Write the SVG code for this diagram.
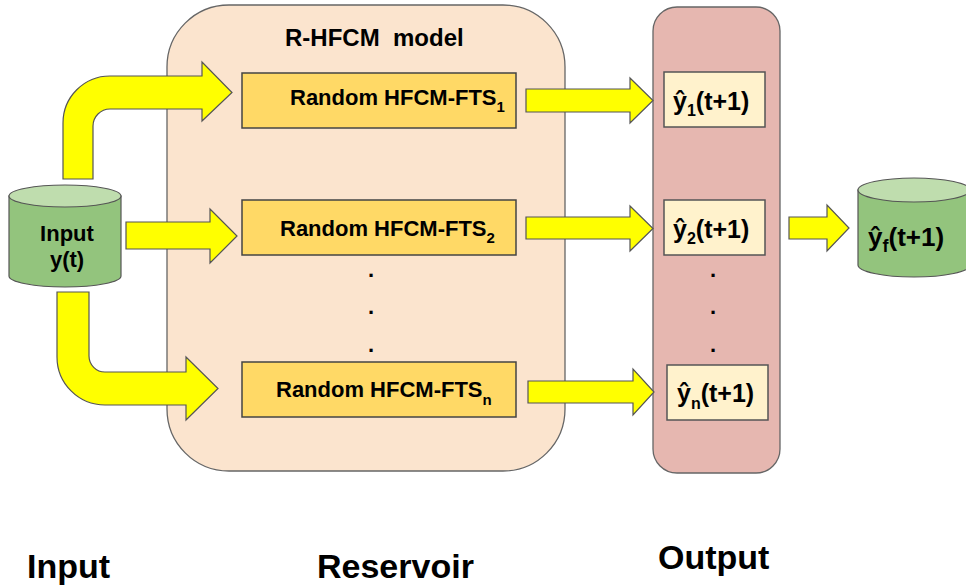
<svg xmlns="http://www.w3.org/2000/svg" width="966" height="588" viewBox="0 0 966 588">
  <style>
    text { font-family: "Liberation Sans", Arial, sans-serif; font-weight: bold; fill: #000; }
    .panel-res { fill: #FBE4CE; stroke: #666; stroke-width: 1.3; }
    .panel-out { fill: #E6B7B0; stroke: #666; stroke-width: 1.3; }
    .hfcm { fill: #FFD966; stroke: #444; stroke-width: 1.5; }
    .pred { fill: #FFF2CC; stroke: #555; stroke-width: 1.5; }
    .arrow { fill: #FFFF00; stroke: #555; stroke-width: 1.2; stroke-linejoin: miter; }
    .cyl-body { fill: #93C47D; stroke: #555; stroke-width: 1.2; }
    .cyl-top { fill: #BFDDAE; stroke: #555; stroke-width: 1.2; }
    .box-label { font-size: 22px; }
    .pred-label { font-size: 25px; }
    .section { font-size: 34px; }
    .dot { font-size: 22px; text-anchor: middle; }
  </style>

  <!-- Reservoir panel -->
  <g id="reservoir">
    <rect class="panel-res" x="167" y="5" width="398" height="466" rx="62" ry="62"/>
    <text x="285" y="46" font-size="24" style="white-space:pre">R-HFCM  model</text>
  </g>

  <!-- Output panel -->
  <g id="output-panel">
    <rect class="panel-out" x="653" y="7" width="127" height="466" rx="24" ry="24"/>
  </g>

  <!-- Input store -->
  <g id="input">
    <path class="cyl-body" d="M9,196 L9,276 A56,11 0 0 0 121,276 L121,196 Z"/>
    <ellipse class="cyl-top" cx="65" cy="196" rx="56" ry="11"/>
    <text x="67" y="241" font-size="22" text-anchor="middle">Input</text>
    <text x="67" y="267" font-size="22" text-anchor="middle">y(t)</text>
  </g>

  <!-- Random HFCM-FTS units -->
  <g id="hfcm1">
    <rect class="hfcm" x="242" y="73" width="274" height="55"/>
    <text class="box-label" x="290" y="105">Random HFCM-FTS<tspan font-size="15" dy="7">1</tspan></text>
  </g>
  <g id="hfcm2">
    <rect class="hfcm" x="242" y="200" width="274" height="55"/>
    <text class="box-label" x="280" y="236">Random HFCM-FTS<tspan font-size="15" dy="7">2</tspan></text>
  </g>
  <g id="hfcmn">
    <rect class="hfcm" x="242" y="362" width="274" height="55"/>
    <text class="box-label" x="276" y="397">Random HFCM-FTS<tspan font-size="15" dy="8">n</tspan></text>
  </g>
  <g id="hfcm-dots">
    <text class="dot" x="371" y="277">.</text>
    <text class="dot" x="371" y="314">.</text>
    <text class="dot" x="371" y="352">.</text>
  </g>

  <!-- Individual predictions -->
  <g id="pred1">
    <rect class="pred" x="664" y="72" width="101" height="55"/>
    <text class="pred-label" x="673" y="110">ŷ<tspan font-size="16" dy="6">1</tspan><tspan dy="-6">(t+1)</tspan></text>
  </g>
  <g id="pred2">
    <rect class="pred" x="664" y="200" width="101" height="55"/>
    <text class="pred-label" x="673" y="238">ŷ<tspan font-size="16" dy="6">2</tspan><tspan dy="-6">(t+1)</tspan></text>
  </g>
  <g id="predn">
    <rect class="pred" x="667" y="365" width="101" height="55"/>
    <text class="pred-label" x="677" y="402">ŷ<tspan font-size="16" dy="7">n</tspan><tspan dy="-7">(t+1)</tspan></text>
  </g>
  <g id="pred-dots">
    <text class="dot" x="713" y="277">.</text>
    <text class="dot" x="713" y="314">.</text>
    <text class="dot" x="713" y="352">.</text>
  </g>

  <!-- Final forecast store -->
  <g id="final">
    <path class="cyl-body" d="M858,190 L858,265 A56,12 0 0 0 970,265 L970,190 Z"/>
    <ellipse class="cyl-top" cx="914" cy="190" rx="56" ry="12"/>
    <text x="868" y="246" font-size="26">ŷ<tspan font-size="18" dy="6">f</tspan><tspan dy="-6">(t+1)</tspan></text>
  </g>

  <!-- Block arrows -->
  <g id="connectors">
    <path class="arrow" d="M63,179 L63,123 A47,47 0 0 1 110,76 L202,76 L202,62 L232,92.5 L202,121 L202,109 L110,109 A17,17 0 0 0 93,126 L93,179 Z"/>
    <path class="arrow" d="M126,222 L210,222 L210,209 L237,236 L210,263 L210,249 L126,249 Z"/>
    <path class="arrow" d="M57,292 L89,292 L89,356 A16,16 0 0 0 105,372 L186,372 L186,357 L218,388.5 L186,420 L186,405 L105,405 A48,48 0 0 1 57,357 Z"/>
    <path class="arrow" d="M526,89 L630,89 L630,78 L653,100.5 L630,123 L630,112 L526,112 Z"/>
    <path class="arrow" d="M526,217 L630,217 L630,206 L653,228.5 L630,251 L630,239 L526,239 Z"/>
    <path class="arrow" d="M528,381 L633,381 L633,369 L654,392 L633,415 L633,403 L528,403 Z"/>
    <path class="arrow" d="M789,217 L827,217 L827,205 L849,228 L827,251 L827,239 L789,239 Z"/>
  </g>

  <!-- Stage labels -->
  <g id="stage-labels">
    <text class="section" x="27" y="578">Input</text>
    <text class="section" x="317" y="578">Reservoir</text>
    <text class="section" x="658" y="569">Output</text>
  </g>
</svg>
